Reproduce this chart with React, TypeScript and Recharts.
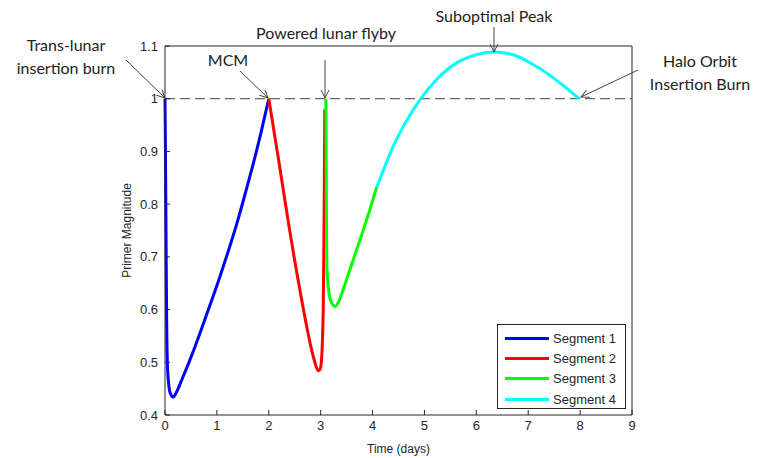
import { Line, LineChart, ReferenceLine, XAxis, YAxis, Label } from "recharts";

// Primer magnitude history, one array pair per trajectory segment (days, magnitude).
const seg1Time = [0, 0.005, 0.01, 0.02, 0.03, 0.045, 0.07, 0.1, 0.16, 0.22, 0.32, 0.45, 0.58, 0.8, 1.05, 1.22, 1.39, 1.56, 1.71, 1.86, 2.0];
const seg1Mag = [1.0, 0.95, 0.88, 0.74, 0.6, 0.5, 0.46, 0.442, 0.434, 0.443, 0.466, 0.497, 0.53, 0.59, 0.66, 0.711, 0.765, 0.825, 0.88, 0.94, 1.0];

const seg2Time = [2.0, 2.18, 2.38, 2.6, 2.86, 2.92, 2.95, 2.99, 3.02, 3.04, 3.05, 3.06, 3.07, 3.08];
const seg2Mag = [1.0, 0.89, 0.764, 0.637, 0.51, 0.49, 0.484, 0.487, 0.51, 0.56, 0.605, 0.7, 0.827, 0.98];

const seg3Time = [3.1, 3.105, 3.11, 3.12, 3.15, 3.2, 3.28, 3.35, 3.44, 3.53, 3.76, 3.95, 4.08];
const seg3Mag = [1.0, 0.92, 0.8, 0.68, 0.64, 0.615, 0.606, 0.616, 0.64, 0.666, 0.733, 0.79, 0.832];

const seg4Time = [4.08, 4.21, 4.4, 4.59, 4.93, 5.23, 5.62, 6.0, 6.34, 6.71, 7.16, 7.61, 7.98];
const seg4Mag = [0.832, 0.865, 0.91, 0.947, 1.0, 1.036, 1.068, 1.0835, 1.0887, 1.0835, 1.061, 1.03, 1.0];

const segNames = ["Segment 1", "Segment 2", "Segment 3", "Segment 4"];
const segColors = ["#0000ff", "#ff0000", "#00ff00", "#00ffff"];

const xTicks = [0, 1, 2, 3, 4, 5, 6, 7, 8, 9];
const yTicks = [0.4, 0.5, 0.6, 0.7, 0.8, 0.9, 1.0, 1.1];

const build = (t: number[], p: number[]) => t.map((v, i) => ({ t: v, p: p[i] }));
const segments = [
  build(seg1Time, seg1Mag),
  build(seg2Time, seg2Mag),
  build(seg3Time, seg3Mag),
  build(seg4Time, seg4Mag),
];

const AXIS = "#262626";
const tickFont = { fontSize: 13, fill: AXIS, fontFamily: "Liberation Sans, Arial, sans-serif" };
const noLabel = () => "";
const fmtY = (v: number) => String(Math.round(v * 10) / 10);

// Boxed legend in the lower-right corner of the axes, as MATLAB draws it.
function LegendBox() {
  return (
    <div
      style={{
        position: "absolute",
        left: 497,
        top: 324,
        width: 129,
        height: 85,
        boxSizing: "border-box",
        border: `1px solid ${AXIS}`,
        background: "#fff",
        padding: "3px 0 0 7px",
        fontFamily: "Liberation Sans, Arial, sans-serif",
        fontSize: 13,
        color: AXIS,
      }}
    >
      {segNames.map((n, i) => (
        <div key={n} style={{ display: "flex", alignItems: "center", height: 20.3 }}>
          <span style={{ display: "inline-block", width: 44, height: 3, background: segColors[i], marginRight: 4 }} />
          {n}
        </div>
      ))}
    </div>
  );
}

// Callout text + arrows drawn over the plot (MATLAB-style annotations).
function Annotations() {
  const txt = { fontFamily: "Lato, Carlito, sans-serif", fontSize: 16, fill: "#222" } as const;
  const arrow = { stroke: "#444", strokeWidth: 1, markerEnd: "url(#ah)" } as const;
  return (
    <svg width={757} height={458} style={{ position: "absolute", left: 0, top: 0, pointerEvents: "none" }}>
      <defs>
        <marker id="ah" markerWidth="10" markerHeight="10" refX="9" refY="5" orient="auto" markerUnits="userSpaceOnUse">
          <path d="M1,1 L9,5 L1,9" fill="none" stroke="#444" strokeWidth={1} />
        </marker>
      </defs>
      <text x={66} y={51} textAnchor="middle" {...txt}>Trans-lunar</text>
      <text x={66} y={74} textAnchor="middle" {...txt}>insertion burn</text>
      <line x1={126} y1={60} x2={165} y2={98} {...arrow} />
      <text x={228} y={66} textAnchor="middle" {...txt}>MCM</text>
      <line x1={240} y1={71} x2={268} y2={98} {...arrow} />
      <text x={326} y={39} textAnchor="middle" {...txt}>Powered lunar flyby</text>
      <line x1={325} y1={60} x2={325} y2={98} {...arrow} />
      <text x={494} y={22} textAnchor="middle" {...txt}>Suboptimal Peak</text>
      <line x1={494} y1={27} x2={494} y2={52} {...arrow} />
      <text x={700} y={67} textAnchor="middle" {...txt}>Halo Orbit</text>
      <text x={700} y={90} textAnchor="middle" {...txt}>Insertion Burn</text>
      <line x1={638} y1={70} x2={581} y2={97} {...arrow} />
    </svg>
  );
}

export default function App() {
  return (
    <div style={{ position: "absolute", left: 0, top: 0, width: 757, height: 458, background: "#fff" }}>
      <LineChart width={757} height={458} margin={{ top: 45, right: 124, bottom: 13, left: 125 }}>
        <XAxis
          xAxisId="b"
          type="number"
          dataKey="t"
          domain={[0, 9]}
          ticks={xTicks}
          interval={0}
          height={30}
          stroke={AXIS}
          tick={tickFont}
          tickSize={-5}
          tickMargin={11}
          allowDuplicatedCategory={false}
        >
          <Label value="Time (days)" position="insideBottom" offset={-8} style={{ ...tickFont, fontSize: 12 }} />
        </XAxis>
        <XAxis
          xAxisId="t"
          orientation="top"
          type="number"
          dataKey="t"
          domain={[0, 9]}
          ticks={xTicks}
          interval={0}
          height={1}
          stroke={AXIS}
          tickFormatter={noLabel}
          tickSize={-5}
          allowDuplicatedCategory={false}
        />
        <YAxis
          yAxisId="l"
          type="number"
          domain={[0.4, 1.1]}
          ticks={yTicks}
          interval={0}
          width={40}
          stroke={AXIS}
          tick={tickFont}
          tickFormatter={fmtY}
          tickSize={-5}
          tickMargin={12}
        >
          <Label value="Primer Magnitude" angle={-90} position="insideLeft" offset={2} style={{ ...tickFont, fontSize: 12, textAnchor: "middle" }} />
        </YAxis>
        <YAxis
          yAxisId="r"
          orientation="right"
          type="number"
          domain={[0.4, 1.1]}
          ticks={yTicks}
          interval={0}
          width={1}
          stroke={AXIS}
          tickFormatter={noLabel}
          tickSize={-5}
        />
        <ReferenceLine xAxisId="b" yAxisId="l" y={1} stroke="#404040" strokeDasharray="10 5" strokeWidth={1} />
        {segments.map((d, i) => (
          <Line
            key={segNames[i]}
            xAxisId="b"
            yAxisId="l"
            data={d}
            dataKey="p"
            name={segNames[i]}
            type="monotone"
            stroke={segColors[i]}
            strokeWidth={3}
            dot={false}
            isAnimationActive={false}
          />
        ))}
      </LineChart>
      <LegendBox />
      <Annotations />
    </div>
  );
}
